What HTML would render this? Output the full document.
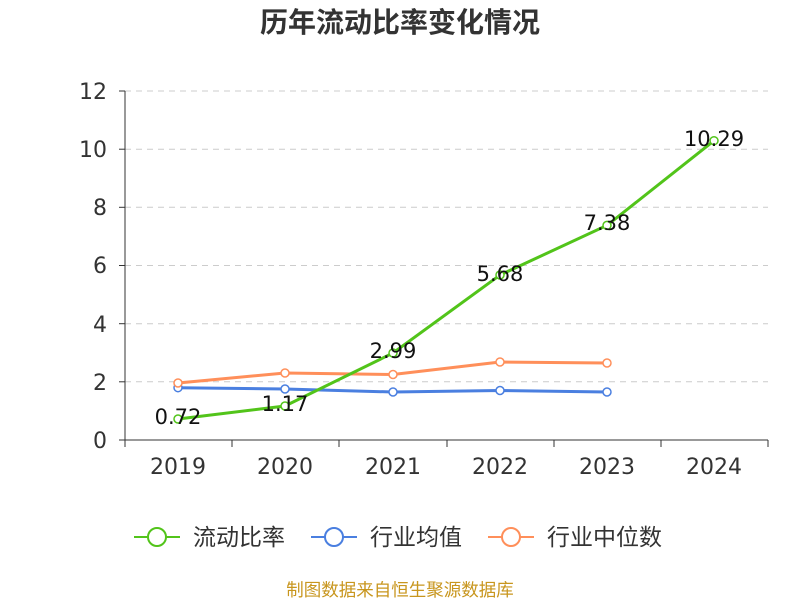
<!DOCTYPE html>
<html><head><meta charset="utf-8"><style>
body{margin:0;background:#fff}
svg text{font-family:"DejaVu Sans","Noto Sans CJK SC",sans-serif}
</style></head><body>
<svg width="800" height="600" viewBox="0 0 800 600" xmlns="http://www.w3.org/2000/svg">
<text x="400" y="32" text-anchor="middle" font-size="28" font-weight="bold" fill="#333">历年流动比率变化情况</text>
<g stroke="#ccc" stroke-dasharray="6,5" stroke-width="1">
<line x1="125" x2="768" y1="91" y2="91"/>
<line x1="125" x2="768" y1="149.2" y2="149.2"/>
<line x1="125" x2="768" y1="207.3" y2="207.3"/>
<line x1="125" x2="768" y1="265.5" y2="265.5"/>
<line x1="125" x2="768" y1="323.7" y2="323.7"/>
<line x1="125" x2="768" y1="381.8" y2="381.8"/>
</g>
<g stroke="#333" stroke-width="1">
<line x1="125" x2="125" y1="91" y2="440"/>
<line x1="125" x2="768" y1="440" y2="440"/>
<line x1="119" x2="125" y1="91" y2="91"/><line x1="119" x2="125" y1="149.2" y2="149.2"/>
<line x1="119" x2="125" y1="207.3" y2="207.3"/><line x1="119" x2="125" y1="265.5" y2="265.5"/>
<line x1="119" x2="125" y1="323.7" y2="323.7"/><line x1="119" x2="125" y1="381.8" y2="381.8"/>
<line x1="119" x2="125" y1="440" y2="440"/>
<line x1="125" x2="125" y1="440" y2="447"/><line x1="232" x2="232" y1="440" y2="447"/>
<line x1="339" x2="339" y1="440" y2="447"/><line x1="447" x2="447" y1="440" y2="447"/>
<line x1="554" x2="554" y1="440" y2="447"/><line x1="661" x2="661" y1="440" y2="447"/>
<line x1="768" x2="768" y1="440" y2="447"/>
</g>
<g font-size="22" fill="#333" text-anchor="end">
<text x="107" y="99">12</text><text x="107" y="157">10</text><text x="107" y="215">8</text>
<text x="107" y="273">6</text><text x="107" y="332">4</text><text x="107" y="390">2</text><text x="107" y="448">0</text>
</g>
<g font-size="22" fill="#333" text-anchor="middle">
<text x="178" y="474">2019</text><text x="285" y="474">2020</text><text x="393" y="474">2021</text>
<text x="500" y="474">2022</text><text x="607" y="474">2023</text><text x="714" y="474">2024</text>
</g>
<polyline fill="none" stroke="#4a7fe0" stroke-width="3" points="178,387.7 285,389 393,392 500,390.5 607,392"/>
<polyline fill="none" stroke="#ff8f5a" stroke-width="3" points="178,383 285,373 393,374.5 500,362 607,363"/>
<polyline fill="none" stroke="#52c41a" stroke-width="3" points="178,419 285,406 393,353 500,275 607,225.4 714,140.7"/>
<g fill="#fff" stroke="#4a7fe0" stroke-width="1.5">
<circle cx="178" cy="387.7" r="4"/><circle cx="285" cy="389" r="4"/><circle cx="393" cy="392" r="4"/><circle cx="500" cy="390.5" r="4"/><circle cx="607" cy="392" r="4"/></g>
<g fill="#fff" stroke="#ff8f5a" stroke-width="1.5">
<circle cx="178" cy="383" r="4"/><circle cx="285" cy="373" r="4"/><circle cx="393" cy="374.5" r="4"/><circle cx="500" cy="362" r="4"/><circle cx="607" cy="363" r="4"/></g>
<g fill="#fff" stroke="#52c41a" stroke-width="1.5">
<circle cx="178" cy="419" r="4"/><circle cx="285" cy="406" r="4"/><circle cx="393" cy="353" r="4"/><circle cx="500" cy="275" r="4"/><circle cx="607" cy="225.4" r="4"/><circle cx="714" cy="140.7" r="4"/></g>
<g font-size="21" fill="#111" text-anchor="middle">
<text x="178" y="424">0.72</text><text x="285" y="411">1.17</text><text x="393" y="358">2.99</text>
<text x="500" y="281">5.68</text><text x="607" y="230">7.38</text><text x="714" y="146">10.29</text>
</g>
<g stroke-width="2" fill="#fff">
<line x1="134" x2="180" y1="537" y2="537" stroke="#52c41a"/><circle cx="157" cy="537" r="9" stroke="#52c41a"/>
<line x1="311" x2="357" y1="537" y2="537" stroke="#4a7fe0"/><circle cx="334" cy="537" r="9" stroke="#4a7fe0"/>
<line x1="488" x2="534" y1="537" y2="537" stroke="#ff8f5a"/><circle cx="511" cy="537" r="9" stroke="#ff8f5a"/>
</g>
<g font-size="23" fill="#333">
<text x="193" y="545">流动比率</text><text x="370" y="545">行业均值</text><text x="547" y="545">行业中位数</text>
</g>
<text x="400" y="596" text-anchor="middle" font-size="17.5" fill="#c8961e">制图数据来自恒生聚源数据库</text>
</svg>
</body></html>
